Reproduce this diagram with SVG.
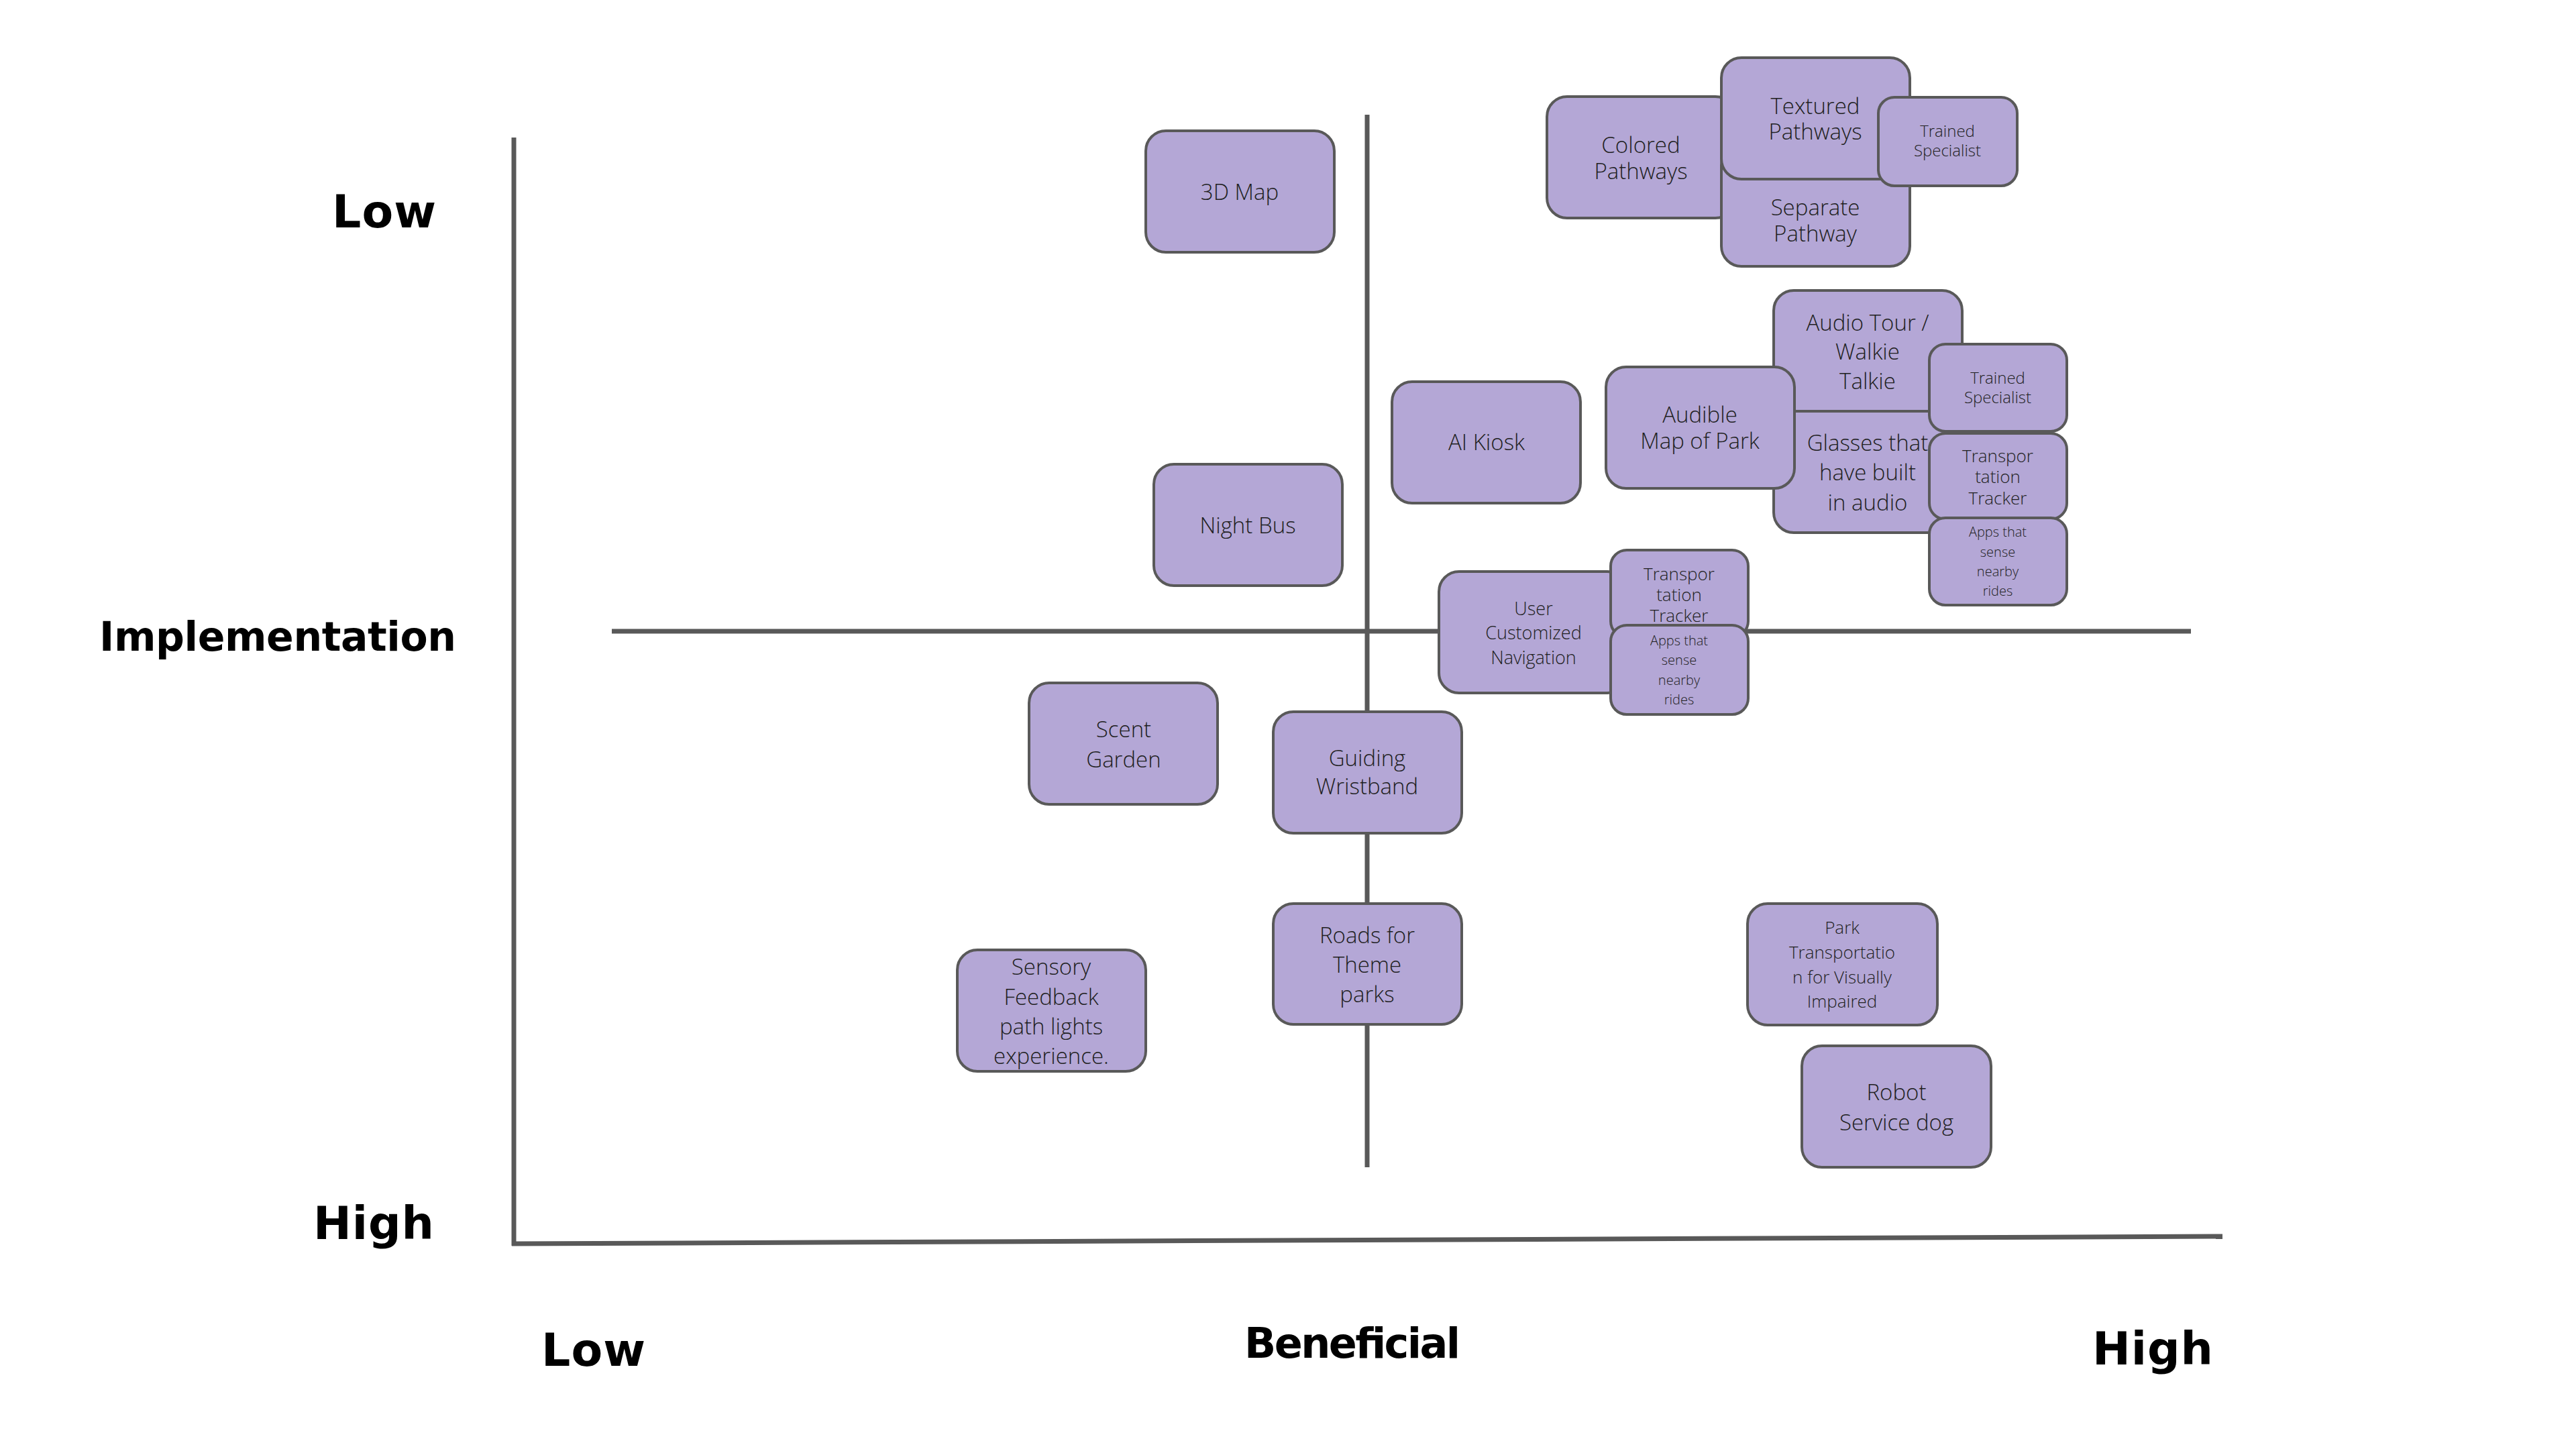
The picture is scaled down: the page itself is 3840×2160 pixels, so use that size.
<svg xmlns="http://www.w3.org/2000/svg" width="3840" height="2160" viewBox="0 0 3840 2160">
<style>
.bg{fill:#ffffff}
.ax{stroke:#595959;stroke-width:7;fill:none;stroke-linecap:butt}
.node rect{fill:#b4a7d6;stroke:#595959;stroke-width:4}
.t{font-family:"Open Sans","Noto Sans",sans-serif;font-weight:300;fill:#1f1f1f;text-anchor:middle}
.b{font-size:33px}
.m{font-size:27px}
.s{font-size:26px}
.xs{font-size:24px}
.xxs{font-size:20px}
.lab{font-family:"DejaVu Sans","Noto Sans",sans-serif;font-weight:bold;fill:#000000}
</style>
<rect class="bg" x="0" y="0" width="3840" height="2160"/>
<g id="connectors">
<line class="ax" x1="766" y1="205" x2="766" y2="1857"/>
<line class="ax" x1="763" y1="1854" x2="3313" y2="1843"/>
<line class="ax" x1="912" y1="941" x2="3266" y2="941"/>
<line class="ax" x1="2038" y1="171" x2="2038" y2="1740"/>
</g>
<g id="axis-labels">
<text class="lab" x="495" y="339" font-size="68" textLength="155">Low</text>
<text class="lab" x="148" y="970" font-size="60" textLength="532">Implementation</text>
<text class="lab" x="467" y="1847" font-size="68" textLength="180">High</text>
<text class="lab" x="807" y="2036" font-size="68" textLength="155">Low</text>
<text class="lab" x="1855" y="2024" font-size="62" textLength="322">Beneficial</text>
<text class="lab" x="3119" y="2034" font-size="68" textLength="180">High</text>
</g>
<g id="n-3dmap" class="node"><rect x="1708" y="195" width="281" height="181" rx="30"/><text class="t b" x="1848" y="298">3D Map</text></g>
<g id="n-nightbus" class="node"><rect x="1720" y="692" width="281" height="181" rx="30"/><text class="t b" x="1860" y="795">Night Bus</text></g>
<g id="n-aikiosk" class="node"><rect x="2075" y="569" width="281" height="181" rx="30"/><text class="t b" x="2216" y="671">AI Kiosk</text></g>
<g id="n-colored" class="node"><rect x="2306" y="144" width="281" height="181" rx="30"/><text class="t b" x="2446" y="228">Colored</text><text class="t b" x="2446" y="267">Pathways</text></g>
<g id="n-separate" class="node"><rect x="2566" y="216" width="281" height="181" rx="30"/><text class="t b" x="2706" y="321" font-weight="400">Separate</text><text class="t b" x="2706" y="360" font-weight="400">Pathway</text></g>
<g id="n-textured" class="node"><rect x="2566" y="86" width="281" height="181" rx="30"/><text class="t b" x="2706" y="170">Textured</text><text class="t b" x="2706" y="208">Pathways</text></g>
<g id="n-trained1" class="node"><rect x="2800" y="145" width="207" height="132" rx="24"/><text class="t xs" x="2903" y="204">Trained</text><text class="t xs" x="2903" y="233">Specialist</text></g>
<g id="n-audiotour" class="node"><rect x="2644" y="433" width="281" height="181" rx="30"/><text class="t b" x="2784" y="493">Audio Tour /</text><text class="t b" x="2784" y="536">Walkie</text><text class="t b" x="2784" y="580">Talkie</text></g>
<g id="n-glasses" class="node"><rect x="2644" y="613" width="281" height="181" rx="30"/><text class="t b" x="2784" y="672">Glasses that</text><text class="t b" x="2784" y="716">have built</text><text class="t b" x="2784" y="761">in audio</text></g>
<g id="n-audible" class="node"><rect x="2394" y="547" width="281" height="181" rx="30"/><text class="t b" x="2534" y="630">Audible</text><text class="t b" x="2534" y="669">Map of Park</text></g>
<g id="n-trained2" class="node"><rect x="2876" y="513" width="205" height="130" rx="24"/><text class="t xs" x="2978" y="572">Trained</text><text class="t xs" x="2978" y="601">Specialist</text></g>
<g id="n-tracker1" class="node"><rect x="2876" y="646" width="205" height="128" rx="24"/><text class="t s" x="2978" y="689">Transpor</text><text class="t s" x="2978" y="720">tation</text><text class="t s" x="2978" y="752">Tracker</text></g>
<g id="n-apps1" class="node"><rect x="2876" y="772" width="205" height="130" rx="24"/><text class="t xxs" x="2978" y="800">Apps that</text><text class="t xxs" x="2978" y="830">sense</text><text class="t xxs" x="2978" y="859">nearby</text><text class="t xxs" x="2978" y="888">rides</text></g>
<g id="n-usernav" class="node"><rect x="2145" y="852" width="281" height="181" rx="30"/><text class="t m" x="2286" y="917">User</text><text class="t m" x="2286" y="953">Customized</text><text class="t m" x="2286" y="990">Navigation</text></g>
<g id="n-tracker2" class="node"><rect x="2401" y="820" width="205" height="130" rx="24"/><text class="t s" x="2503" y="865">Transpor</text><text class="t s" x="2503" y="896">tation</text><text class="t s" x="2503" y="927">Tracker</text></g>
<g id="n-apps2" class="node"><rect x="2401" y="932" width="205" height="133" rx="24"/><text class="t xxs" x="2503" y="962">Apps that</text><text class="t xxs" x="2503" y="991">sense</text><text class="t xxs" x="2503" y="1021">nearby</text><text class="t xxs" x="2503" y="1050">rides</text></g>
<g id="n-scent" class="node"><rect x="1534" y="1018" width="281" height="181" rx="30"/><text class="t b" x="1675" y="1099">Scent</text><text class="t b" x="1675" y="1144">Garden</text></g>
<g id="n-guiding" class="node"><rect x="1898" y="1061" width="281" height="181" rx="30"/><text class="t b" x="2038" y="1142">Guiding</text><text class="t b" x="2038" y="1184">Wristband</text></g>
<g id="n-roads" class="node"><rect x="1898" y="1347" width="281" height="180" rx="30"/><text class="t b" x="2038" y="1406">Roads for</text><text class="t b" x="2038" y="1450">Theme</text><text class="t b" x="2038" y="1494">parks</text></g>
<g id="n-sensory" class="node"><rect x="1427" y="1416" width="281" height="181" rx="30"/><text class="t b" x="1567" y="1453">Sensory</text><text class="t b" x="1567" y="1498">Feedback</text><text class="t b" x="1567" y="1542">path lights</text><text class="t b" x="1567" y="1586">experience.</text></g>
<g id="n-parktrans" class="node"><rect x="2605" y="1347" width="283" height="181" rx="30"/><text class="t s" x="2746" y="1392">Park</text><text class="t s" x="2746" y="1429">Transportatio</text><text class="t s" x="2746" y="1466">n for Visually</text><text class="t s" x="2746" y="1502">Impaired</text></g>
<g id="n-robot" class="node"><rect x="2686" y="1559" width="282" height="181" rx="30"/><text class="t b" x="2827" y="1640">Robot</text><text class="t b" x="2827" y="1685">Service dog</text></g>
</svg>
